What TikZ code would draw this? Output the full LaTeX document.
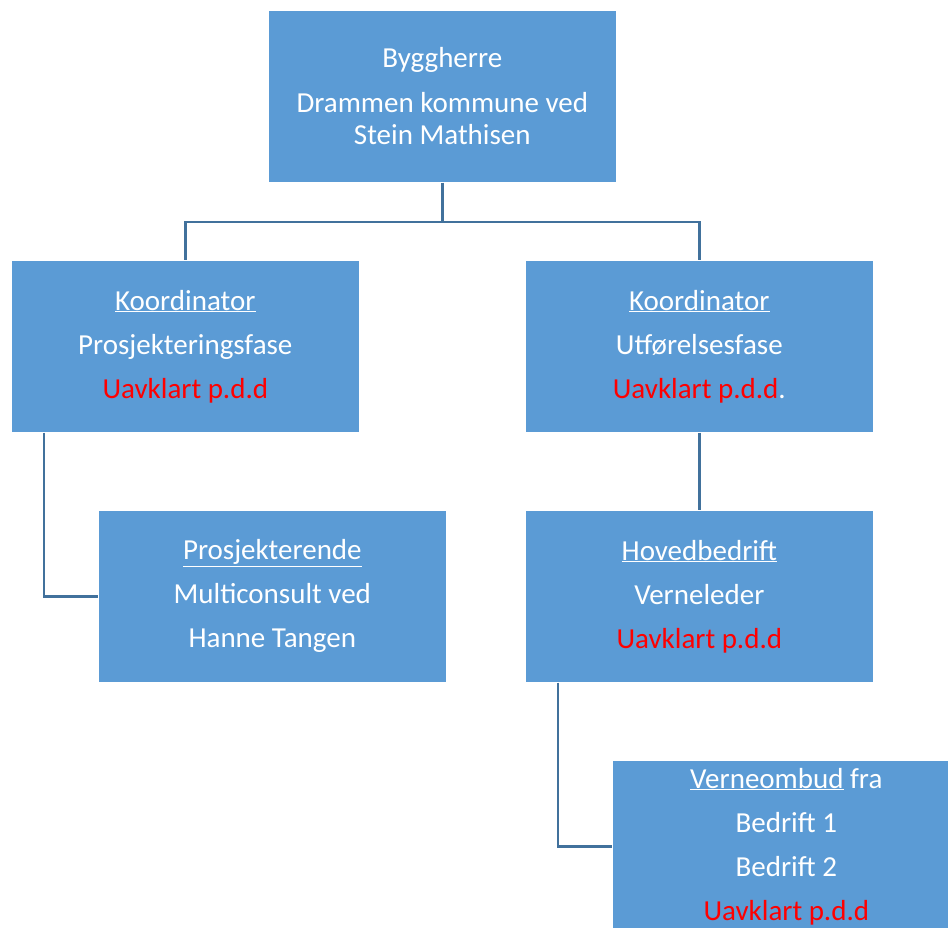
\documentclass[tikz,border=0pt]{standalone}
\usepackage{fontspec}
\setmainfont{Carlito}
\definecolor{boxblue}{HTML}{5B9BD5}
\definecolor{linkblue}{HTML}{41719C}
\definecolor{pdred}{HTML}{FF0000}
\begin{document}
\begin{tikzpicture}[x=1pt,y=-1pt,
  box/.style={rectangle, fill=boxblue, draw=white, line width=0.6pt,
    minimum width=348pt, minimum height=172pt, inner sep=0pt, align=center,
    text=white, font=\fontsize{29}{32}\selectfont, anchor=north west},
  link/.style={draw=linkblue, line width=2.5pt}]
\useasboundingbox (0,0) rectangle (948,928);
\clip (0,0) rectangle (948,928);
\fill[white] (0,0) rectangle (948,928);
\node[box] (top) at (268,10) {Byggherre\\[13pt]Drammen kommune ved\\Stein Mathisen};
\node[box] (k1) at (11,260) {\underline{Koordinator}\\[12pt]Prosjekteringsfase\\[12pt]\textcolor{pdred}{Uavklart p.d.d}};
\node[box] (k2) at (525,260) {\underline{Koordinator}\\[12pt]Utførelsesfase\\[12pt]\textcolor{pdred}{Uavklart p.d.d}.};
\node[box] (pro) at (98,510) {\underline{Prosjekterende}\\[12pt]Multiconsult ved\\[12pt]Hanne Tangen};
\node[box] (hov) at (525,510) {\underline{Hovedbedrift}\\[12pt]Verneleder\\[12pt]\textcolor{pdred}{Uavklart p.d.d}};
\node[box] (ver) at (612,760) {\underline{Verneombud} fra\\[12pt]Bedrift 1\\[12pt]Bedrift 2\\[12pt]\textcolor{pdred}{Uavklart p.d.d}};
\coordinate (bus) at (0,222);
\draw[link] (top.south) -- (top.south |- bus);
\draw[link] (k1.north) |- (bus -| k2.north) -- (k2.north);
\draw[link] ([xshift=33pt]k1.south west) |- (pro.west);
\draw[link] (k2.south) -- (hov.north);
\draw[link] ([xshift=33pt]hov.south west) |- (ver.west);
\end{tikzpicture}
\end{document}
